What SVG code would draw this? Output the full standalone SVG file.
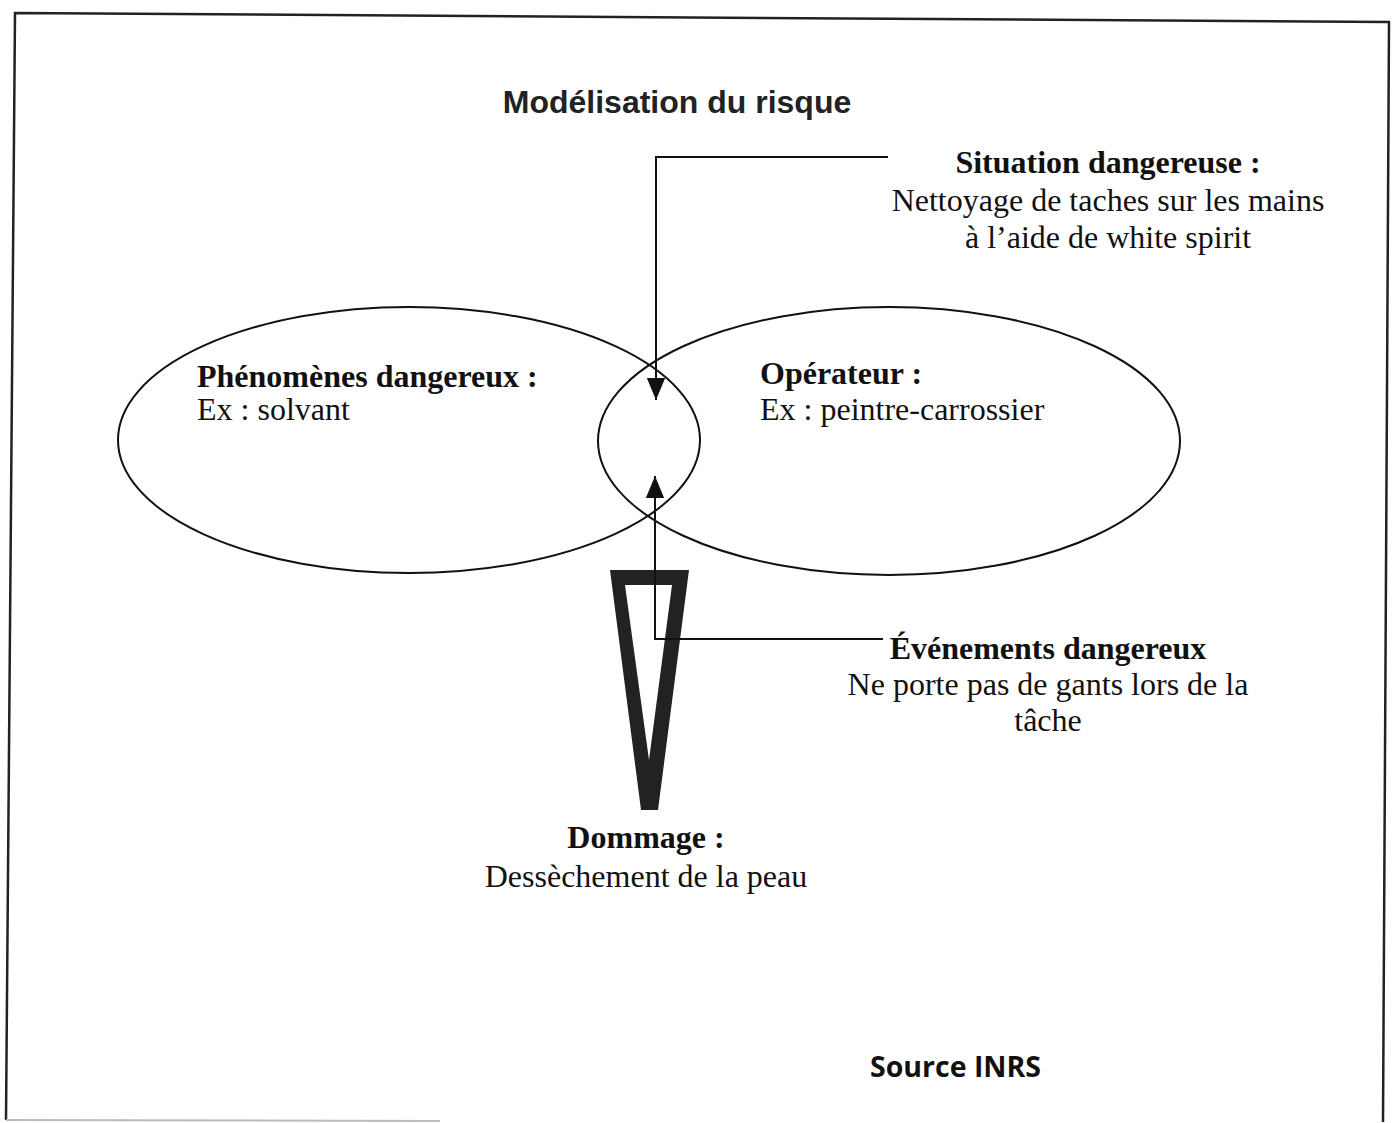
<svg xmlns="http://www.w3.org/2000/svg" width="1394" height="1123" viewBox="0 0 1394 1123">
<style>
.b{font-family:"Liberation Serif","Times New Roman",serif;font-weight:bold;font-size:32px;fill:#111}
.r{font-family:"Liberation Serif","Times New Roman",serif;font-size:32px;fill:#111}
.t{font-family:"Liberation Sans",Arial,sans-serif;font-weight:bold;font-size:32px;fill:#222}
.s{font-family:"Open Sans","Liberation Sans",sans-serif;font-weight:bold;font-size:28.5px;fill:#111}
.shape{fill:none;stroke:#111;stroke-width:2}
.conn{fill:none;stroke:#111;stroke-width:2}
.frame{fill:none;stroke:#222;stroke-width:2.5}
</style>
<defs>
<marker id="ah" markerUnits="userSpaceOnUse" markerWidth="22" markerHeight="26" refX="24" refY="10" orient="auto" viewBox="0 0 24 20">
<path d="M0,0 L24,10 L0,20 Z" fill="#111"/>
</marker>
</defs>
<rect width="1394" height="1123" fill="#fff"/>
<polyline class="frame" points="6,1120 15,13 1389,22 1383,1122"/>
<line x1="6" y1="1120" x2="440" y2="1121" stroke="#bbb" stroke-width="2"/>
<text class="t" x="677" y="113" text-anchor="middle">Modélisation du risque</text>
<g id="phenomenes">
<ellipse class="shape" cx="409" cy="440" rx="291" ry="133"/>
<text class="b" x="197" y="387">Phénomènes dangereux :</text>
<text class="r" x="197" y="420">Ex : solvant</text>
</g>
<g id="operateur">
<ellipse class="shape" cx="889" cy="441" rx="291" ry="134"/>
<text class="b" x="760" y="384">Opérateur :</text>
<text class="r" x="760" y="420">Ex : peintre-carrossier</text>
</g>
<g id="situation">
<text class="b" x="1108" y="173" text-anchor="middle">Situation dangereuse :</text>
<text class="r" x="1108" y="211" text-anchor="middle">Nettoyage de taches sur les mains</text>
<text class="r" x="1108" y="248" text-anchor="middle">à l’aide de white spirit</text>
</g>
<g id="evenements">
<text class="b" x="1048" y="659" text-anchor="middle">Événements dangereux</text>
<text class="r" x="1048" y="695" text-anchor="middle">Ne porte pas de gants lors de la</text>
<text class="r" x="1048" y="731" text-anchor="middle">tâche</text>
</g>
<g id="dommage">
<path d="M610,570 L689,570 L658,810 L641,810 Z M625,585 L649,760 L672,585 Z" fill="#222" fill-rule="evenodd"/>
<text class="b" x="646" y="848" text-anchor="middle">Dommage :</text>
<text class="r" x="646" y="887" text-anchor="middle">Dessèchement de la peau</text>
</g>
<g id="connectors">
<path class="conn" d="M888,157 H656 V400" marker-end="url(#ah)"/>
<path class="conn" d="M883,639 H655 V476" marker-end="url(#ah)"/>
</g>
<text class="s" x="870" y="1077">Source INRS</text>
</svg>
